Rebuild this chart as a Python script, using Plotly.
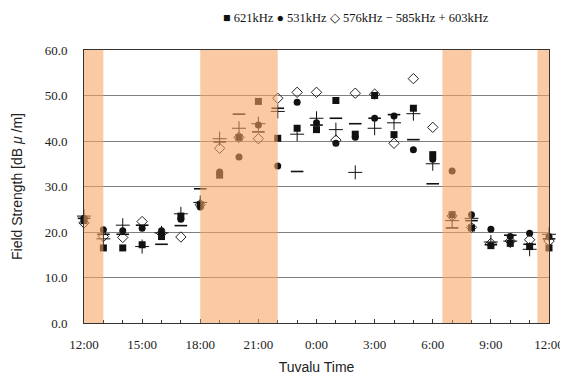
import plotly.graph_objects as go

# hours after 12:00 local (Tuvalu) time
hours = list(range(25))
tick_vals = [0, 3, 6, 9, 12, 15, 18, 21, 24]
tick_text = ["12:00", "15:00", "18:00", "21:00", "0:00", "3:00", "6:00", "9:00", "12:00"]

f621 = [22.5, 16.5, 16.5, 17.2, 19.0, 23.5, 26.0, 32.5, 40.8, 48.7, 40.6, 42.8, 42.5,
        48.9, 41.5, 50.0, 41.4, 47.2, 37.0, 23.8, 20.9, 17.0, 17.5, 16.8, 16.5]
f531 = [23.0, 20.5, 20.3, 20.8, 20.3, 22.8, 25.5, 33.2, 36.5, 43.5, 34.5, 48.5, 44.0,
        39.5, 40.8, 45.0, 45.5, 38.1, 36.0, 33.4, 23.8, 20.6, 19.0, 19.7, 19.0]
f576 = [22.0, 19.0, 18.8, 22.3, 19.7, 18.9, 26.0, 38.4, 40.8, 40.5, 49.4, 50.7, 50.7,
        40.2, 50.5, 50.3, 39.5, 53.7, 43.0, 23.5, 21.0, 17.5, 18.0, 18.3, 18.0]
f585 = [23.0, 19.5, 19.5, 21.5, 17.3, 21.4, 29.5, 39.8, 45.9, 42.0, 47.2, 33.3, 43.5,
        45.0, 43.8, 45.0, 45.8, 40.3, 30.6, 20.9, 22.5, 17.2, 19.3, 17.3, 18.5]
f603 = [23.5, 18.5, 21.5, 16.8, 19.8, 24.0, 26.5, 40.5, 42.8, 43.8, 46.5, 41.5, 45.0,
        42.5, 33.1, 42.8, 44.0, 46.0, 35.0, 22.5, 23.0, 17.8, 18.0, 16.2, 19.5]

# shaded time ranges (hours after 12:00)
bands = [(0, 1), (6, 10), (18.5, 20), (23.4, 24)]

series = [
    ("621kHz", f621, dict(symbol="square", size=7, color="#111111")),
    ("531kHz", f531, dict(symbol="circle", size=7, color="#111111")),
    ("576kHz", f576, dict(symbol="diamond-open", size=8, color="#222222", line=dict(width=1))),
    ("585kHz", f585, dict(symbol="line-ew", size=9, color="#111111", line=dict(width=1.6, color="#111111"))),
    ("603kHz", f603, dict(symbol="cross-thin", size=10, color="#111111", line=dict(width=1, color="#111111"))),
]

fig = go.Figure()
for name, vals, mk in series:
    fig.add_trace(go.Scatter(x=hours, y=vals, mode="markers", name=name, marker=mk,
                             cliponaxis=False, showlegend=False))

for x0, x1 in bands:
    fig.add_shape(type="rect", xref="x", yref="y", x0=x0, x1=x1, y0=0, y1=60,
                  fillcolor="#F4A460", opacity=0.58, line=dict(width=0), layer="above")

fig.add_annotation(xref="paper", yref="paper", x=0.585, y=1.117, xanchor="center",
                   yanchor="middle", showarrow=False,
                   text="■ 621kHz ● 531kHz ◇ 576kHz − 585kHz + 603kHz",
                   font=dict(family="Liberation Serif", size=12.5, color="#111111"))

fig.update_layout(
    width=560, height=367,
    margin=dict(l=76, r=19, t=42, b=52),
    paper_bgcolor="white", plot_bgcolor="white",
    font=dict(family="Liberation Serif", size=13, color="#222222"),
)
fig.update_xaxes(range=[0, 24], tickvals=tick_vals, ticktext=tick_text,
                 showgrid=False, zeroline=False, showline=True, linecolor="#333333",
                 linewidth=1, mirror=True, ticks="inside", ticklen=4, tickcolor="#333333",
                 minor=dict(dtick=1, ticks="inside", ticklen=3, tickcolor="#333333"),
                 ticklabelstandoff=9, automargin=False, ticklabeloverflow="allow",
                 title=dict(text="Tuvalu Time", standoff=12,
                            font=dict(family="Liberation Sans", size=14, color="#222222")))
fig.update_yaxes(range=[0, 60], dtick=10, tickformat=".1f",
                 showgrid=True, gridcolor="#808080", gridwidth=1, zeroline=False,
                 showline=True, linecolor="#333333", linewidth=1, mirror=True,
                 ticks="", ticklabelstandoff=13, automargin=False,
                 title=dict(text="Field Strength [dB <i>μ</i> /m]", standoff=18,
                            font=dict(family="Liberation Sans", size=14, color="#222222")))

fig.write_html("out.html")
